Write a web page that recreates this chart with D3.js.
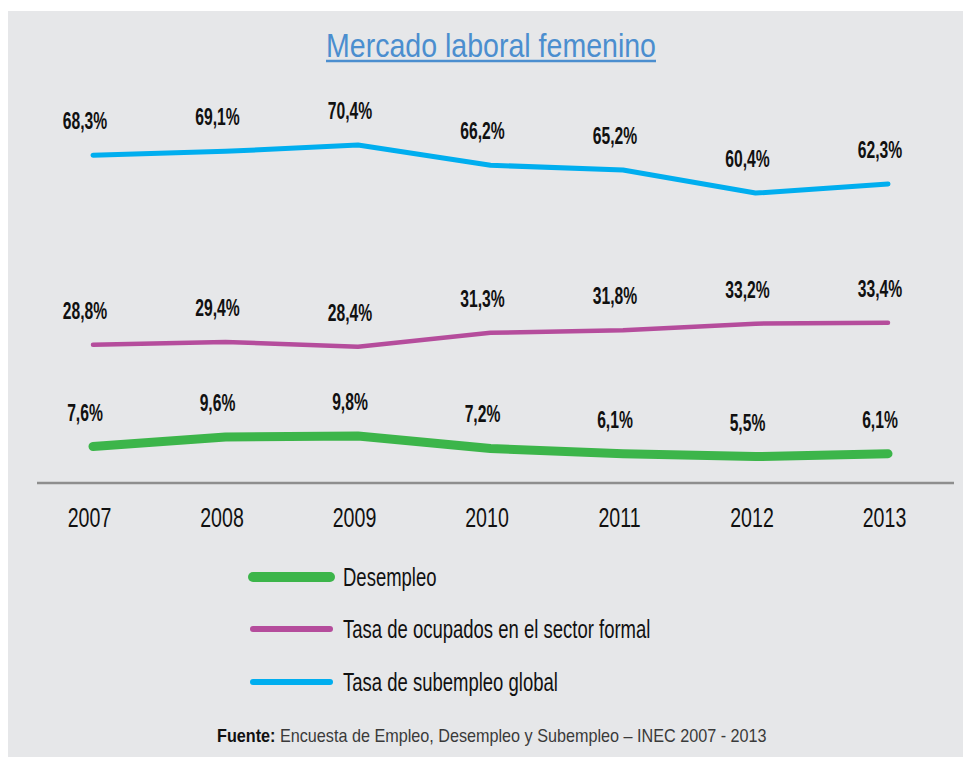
<!DOCTYPE html>
<html>
<head>
<meta charset="utf-8">
<script src="https://cdn.jsdelivr.net/npm/d3@7"></script>
<style>
  body { margin: 0; background: #fff; }
  svg { display: block; font-family: "Liberation Sans", Arial, sans-serif; }
</style>
</head>
<body>
<div id="chart"></div>
<script>
// data
var years = [2007, 2008, 2009, 2010, 2011, 2012, 2013];
var desempleo = [7.6, 9.6, 9.8, 7.2, 6.1, 5.5, 6.1];
var ocupFormal = [28.8, 29.4, 28.4, 31.3, 31.8, 33.2, 33.4];
var subempleo = [68.3, 69.1, 70.4, 66.2, 65.2, 60.4, 62.3];
var seriesNames = ["Desempleo", "Tasa de ocupados en el sector formal", "Tasa de subempleo global"];

var W = 963, H = 757;

var svg = d3.select("#chart").append("svg")
    .attr("width", W)
    .attr("height", H);

// grey panel
svg.append("rect")
    .attr("x", 8).attr("y", 11)
    .attr("width", W - 8).attr("height", H - 11)
    .attr("fill", "#e6e7e9");

var series = [
    { name: seriesNames[0], values: desempleo, color: "#3cb54a", width: 9, legW: 10 },
    { name: seriesNames[1], values: ocupFormal, color: "#b54d9c", width: 4.5, legW: 6 },
    { name: seriesNames[2], values: subempleo, color: "#00aeef", width: 5, legW: 6 }
];

// scales
var x = d3.scalePoint().domain(years).range([93, 888]);
var y = d3.scaleLinear().domain([0, 70]).range([483, 147]);

// title
var title = svg.append("g").attr("transform", "translate(491,57) scale(0.84,1)");
var tt = title.append("text")
    .attr("text-anchor", "middle")
    .style("font-size", "34px")
    .style("fill", "#4b8ecf")
    .text("Mercado laboral femenino");
var tw = tt.node().getComputedTextLength();
title.append("line")
    .attr("x1", -tw / 2).attr("x2", tw / 2)
    .attr("y1", 4).attr("y2", 4)
    .attr("stroke", "#4b8ecf")
    .attr("stroke-width", 2.5);

// baseline
svg.append("line")
    .attr("x1", 37).attr("x2", 954)
    .attr("y1", 483).attr("y2", 483)
    .attr("stroke", "#8e8e8e")
    .attr("stroke-width", 2.5);

// x axis (labels only)
var xAxis = svg.append("g")
    .attr("transform", "translate(0,483)")
    .call(d3.axisBottom(x).tickSize(0).tickPadding(0));
xAxis.select(".domain").remove();
xAxis.selectAll("text")
    .attr("y", 44)
    .attr("dy", 0)
    .attr("transform", "translate(-4,0) scale(0.7,1)")
    .style("font-size", "28px")
    .style("font-family", "Liberation Sans, Arial, sans-serif")
    .style("fill", "#111");

// lines
var line = d3.line()
    .x(function (d, i) { return x(years[i]); })
    .y(function (d) { return y(d); });

svg.selectAll(".serie")
    .data(series)
    .enter()
    .append("path")
    .attr("class", "serie")
    .attr("d", function (d) { return line(d.values); })
    .attr("fill", "none")
    .attr("stroke", function (d) { return d.color; })
    .attr("stroke-width", function (d) { return d.width; })
    .attr("stroke-linecap", "round")
    .attr("stroke-linejoin", "round");

// value labels
series.forEach(function (s) {
    svg.selectAll(null)
        .data(s.values)
        .enter()
        .append("text")
        .attr("text-anchor", "middle")
        .attr("transform", function (d, i) {
            return "translate(" + (x(years[i]) - 8) + "," + (y(d) - 26) + ") scale(0.64,1)";
        })
        .style("font-size", "24.5px")
        .style("font-weight", "bold")
        .style("fill", "#111")
        .text(function (d) { return d.toFixed(1).replace(".", ",") + "%"; });
});

// legend
var legend = svg.selectAll(".legend")
    .data(series)
    .enter()
    .append("g")
    .attr("class", "legend")
    .attr("transform", function (d, i) { return "translate(253," + [577, 629, 682][i] + ")"; });

legend.append("line")
    .attr("x1", 0).attr("x2", 77)
    .attr("stroke", function (d) { return d.color; })
    .attr("stroke-width", function (d) { return d.legW; })
    .attr("stroke-linecap", "round");

legend.append("text")
    .attr("transform", "translate(90,9) scale(0.74,1)")
    .style("font-size", "25px")
    .style("fill", "#111")
    .text(function (d) { return d.name; });

// source
var src = svg.append("text")
    .attr("transform", "translate(217,742) scale(0.875,1)")
    .style("font-size", "18.5px");
src.append("tspan")
    .style("font-weight", "bold")
    .style("fill", "#111")
    .text("Fuente:");
src.append("tspan")
    .style("fill", "#3a3a3a")
    .text(" Encuesta de Empleo, Desempleo y Subempleo \u2013 INEC 2007 - 2013");
</script>
</body>
</html>
